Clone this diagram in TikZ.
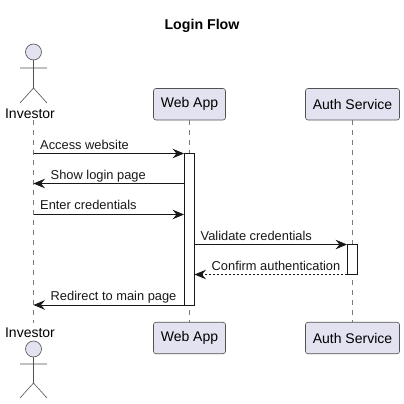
\documentclass[tikz,border=0pt]{standalone}
\usepackage{fontspec}
\setmainfont{Liberation Sans}
\usepackage{xcolor}
\usetikzlibrary{arrows.meta}
\definecolor{partfill}{HTML}{E2E2F0}
\definecolor{ink}{HTML}{181818}
\definecolor{lifegray}{HTML}{7A7A7A}
\tikzset{
  part/.style={draw=ink!75, fill=partfill, line width=0.6pt, rounded corners=2.5pt, minimum height=31.5pt, inner sep=0pt, font=\fontsize{14}{16}\selectfont},
  actorname/.style={inner sep=0pt, anchor=base, font=\fontsize{14}{16}\selectfont},
  msgtext/.style={inner sep=0pt, anchor=base west, text=ink, font=\fontsize{12.85}{15}\selectfont},
  life/.style={draw=lifegray, line width=0.6pt, dash pattern=on 5pt off 5pt},
  actorline/.style={draw=ink!75, line width=0.6pt},
  bar/.style={draw=ink, fill=white, line width=0.9pt, minimum width=10pt, inner sep=0pt},
  msg/.style={draw=ink, line width=0.8pt, -{Stealth[length=11.5pt, width=9.5pt, inset=4pt]}},
  reply/.style={msg, dash pattern=on 2pt off 2pt}
}
\begin{document}
\begin{tikzpicture}[x=1pt, y=-1pt]
\useasboundingbox[fill=white] (0,0) rectangle (404,404);

\node[inner sep=0pt, anchor=base, font=\fontsize{14.2}{16}\selectfont\bfseries] (title) at (202,30) {Login Flow};

% lifelines
\coordinate (invTop) at (33.5,120);
\coordinate (invBot) at (33.5,323);
\coordinate (webTop) at (189.5,120);
\coordinate (webBot) at (189.5,322);
\coordinate (authTop) at (352.5,120);
\coordinate (authBot) at (352.5,322);
\draw[life] (invTop) -- (invBot);
\draw[life] (webTop) -- (webBot);
\draw[life] (authTop) -- (authBot);

% top row
\filldraw[actorline, fill=partfill] (33.5,52) circle (8);
\draw[actorline] (33.5,60) -- (33.5,88) (20,68) -- (47,68) (20,103) -- (33.5,88) -- (47,103);
\node[actorname] (invHead) at (30,118) {Investor};
\node[part, minimum width=72pt] (webHead) at (189.5,104.25) {Web App};
\node[part, minimum width=94pt] (authHead) at (352.5,104.25) {Auth Service};

% bottom row
\node[actorname] (invFoot) at (30,337) {Investor};
\filldraw[actorline, fill=partfill] (33.5,349) circle (8);
\draw[actorline] (33.5,357) -- (33.5,383) (20,364) -- (47,364) (20,398) -- (33.5,383) -- (47,398);
\node[part, minimum width=72pt] (webFoot) at (189.5,338) {Web App};
\node[part, minimum width=94pt] (authFoot) at (352.5,338) {Auth Service};

% activations
\node[bar, minimum height=152pt] (webBar) at (189.5,229.25) {};
\node[bar, minimum height=30pt] (authBar) at (352.5,259.5) {};

% messages
\coordinate (inv1) at (33.5,153.5);
\coordinate (inv2) at (33.5,183.5);
\coordinate (inv3) at (33.5,214.5);
\coordinate (inv4) at (33.5,305);
\draw[msg] (inv1) -- (inv1 -| webBar.west);
\draw[msg] (inv2 -| webBar.west) -- (inv2);
\draw[msg] (inv3) -- (inv3 -| webBar.west);
\coordinate (web1) at (194.5,244.5);
\coordinate (web2) at (194.5,274.5);
\draw[msg] (web1) -- (web1 -| authBar.west);
\draw[reply] (web2 -| authBar.west) -- (web2);
\draw[msg] (inv4 -| webBar.west) -- (inv4);

\node[msgtext] (msgA) at (40,149) {Access website};
\node[msgtext] (msgB) at (50.5,179) {Show login page};
\node[msgtext] (msgC) at (40,209.5) {Enter credentials};
\node[msgtext] (msgD) at (200.5,240) {Validate credentials};
\node[msgtext] (msgE) at (211.5,270) {Confirm authentication};
\node[msgtext] (msgF) at (50.5,300) {Redirect to main page};
\end{tikzpicture}
\end{document}
